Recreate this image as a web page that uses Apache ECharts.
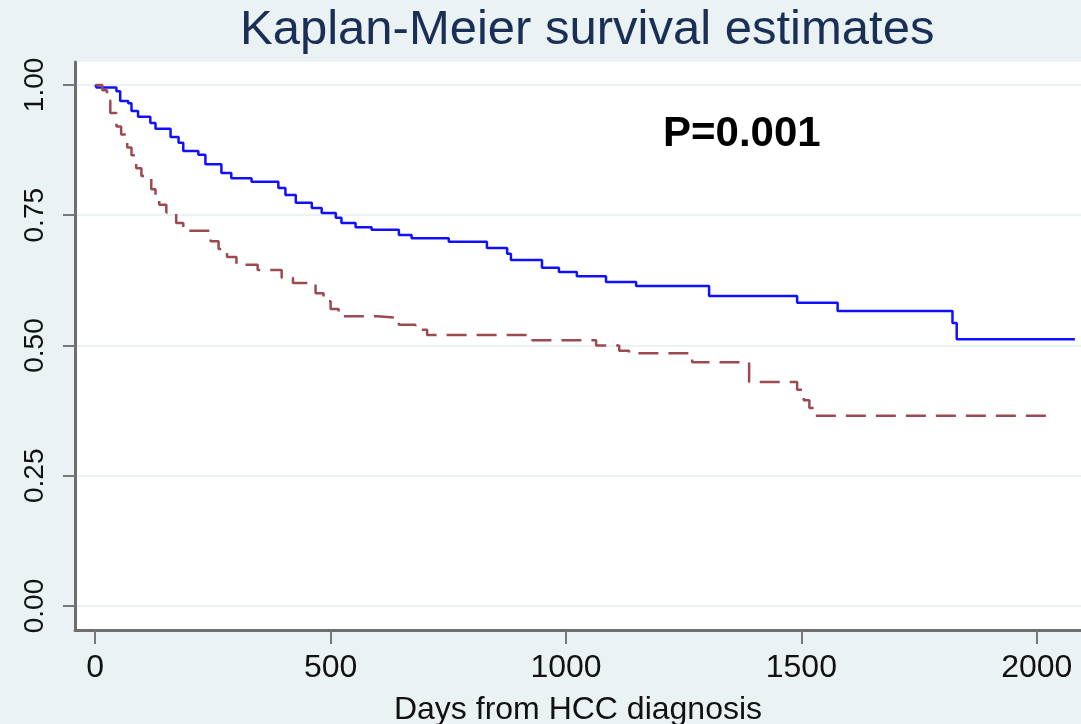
<!DOCTYPE html>
<html>
<head>
<meta charset="utf-8">
<script src="https://cdn.jsdelivr.net/npm/echarts@6/dist/echarts.min.js"></script>
<style>
  html, body { margin: 0; padding: 0; background: #eaf2f3; }
  #chart { width: 1081px; height: 724px; }
</style>
</head>
<body>
<div id="chart"></div>
<script>
// 数据: 两组 Kaplan-Meier 生存曲线 (天数, 生存率)
var blueDays = [0, 3, 45, 53, 70, 77, 91, 117, 128, 160, 177, 187, 219, 234, 268, 289, 332, 389, 404, 426, 460, 481, 511, 523, 553, 587, 645, 672, 751, 832, 875, 883, 949, 985, 1023, 1085, 1149, 1304, 1491, 1577, 1821, 1830, 2081];
var blueSurv = [1.0, 0.995, 0.988, 0.969, 0.965, 0.95, 0.939, 0.927, 0.916, 0.90, 0.889, 0.873, 0.866, 0.848, 0.831, 0.821, 0.814, 0.802, 0.789, 0.774, 0.764, 0.754, 0.745, 0.735, 0.727, 0.722, 0.712, 0.706, 0.699, 0.687, 0.676, 0.664, 0.649, 0.641, 0.633, 0.622, 0.614, 0.595, 0.582, 0.566, 0.543, 0.512, 0.512];

var redDays = [0, 15, 25, 32, 45, 55, 68, 77, 87, 98, 119, 128, 136, 151, 172, 187, 245, 262, 280, 300, 345, 396, 420, 468, 485, 500, 517, 600, 645, 680, 705, 928, 1064, 1113, 1134, 1268, 1389, 1491, 1505, 1517, 1530, 2034];
var redSurv = [1.0, 0.99, 0.97, 0.946, 0.92, 0.905, 0.88, 0.865, 0.84, 0.825, 0.80, 0.785, 0.77, 0.755, 0.735, 0.72, 0.70, 0.685, 0.67, 0.655, 0.645, 0.63, 0.62, 0.60, 0.585, 0.57, 0.556, 0.553, 0.54, 0.53, 0.52, 0.51, 0.50, 0.49, 0.485, 0.468, 0.43, 0.415, 0.395, 0.38, 0.365, 0.365];

// 刻度
var xTicks = [0, 500, 1000, 1500, 2000];
var yTicks = [0, 0.25, 0.5, 0.75, 1];

function pairs(xs, ys) {
    return xs.map(function (x, i) { return [x, ys[i]]; });
}

var chart = echarts.init(document.getElementById('chart'));

var option = {
    backgroundColor: '#eaf2f3',
    animation: false,
    textStyle: { fontFamily: 'Liberation Sans, Arial, sans-serif' },
    graphic: [
        {
            type: 'text',
            left: 240,
            top: 6,
            style: {
                text: 'Kaplan-Meier survival estimates',
                fill: '#1a2f55',
                font: '49px "Liberation Sans", Arial, sans-serif'
            }
        },
        {
            type: 'text',
            left: 663,
            top: 113,
            z: 100,
            style: {
                text: 'P=0.001',
                fill: '#000',
                font: 'bold 42px "Liberation Sans", Arial, sans-serif'
            }
        }
    ],
    grid: {
        left: 75,
        right: 0,
        top: 62,
        bottom: 94,
        outerBoundsMode: 'none',
        show: true,
        backgroundColor: '#ffffff',
        borderWidth: 0
    },
    xAxis: {
        type: 'value',
        min: -43,
        max: 2094,
        name: 'Days from HCC diagnosis',
        nameLocation: 'middle',
        nameGap: 64,
        nameTextStyle: { fontSize: 32, color: '#111' },
        axisLine: { show: true, onZero: false, lineStyle: { color: '#6e6e6e', width: 3 } },
        axisTick: { show: true, customValues: xTicks, length: 14, lineStyle: { color: '#777', width: 2 } },
        axisLabel: {
            customValues: xTicks,
            fontSize: 32,
            color: '#111',
            margin: 22,
            formatter: function (v) { return String(v); }
        },
        splitLine: { show: false }
    },
    yAxis: {
        type: 'value',
        min: -0.046,
        max: 1.044,
        axisLine: { show: true, onZero: false, lineStyle: { color: '#6e6e6e', width: 3 } },
        axisTick: { show: true, customValues: yTicks, length: 12, lineStyle: { color: '#777', width: 2 } },
        axisLabel: {
            customValues: yTicks,
            rotate: 90,
            fontSize: 28,
            color: '#111',
            margin: 26,
            formatter: function (v) { return v.toFixed(2); }
        },
        splitLine: { show: true, lineStyle: { color: '#eaf2f3', width: 2 } }
    },
    series: [
        {
            name: 'group1',
            type: 'line',
            step: 'end',
            symbol: 'none',
            data: pairs(blueDays, blueSurv),
            lineStyle: { color: '#1010ff', width: 2.5 }
        },
        {
            name: 'group2',
            type: 'line',
            step: 'end',
            symbol: 'none',
            data: pairs(redDays, redSurv),
            lineStyle: { color: '#9c4a50', width: 2.5, type: [20, 10] }
        }
    ]
};

chart.setOption(option);
</script>
</body>
</html>
